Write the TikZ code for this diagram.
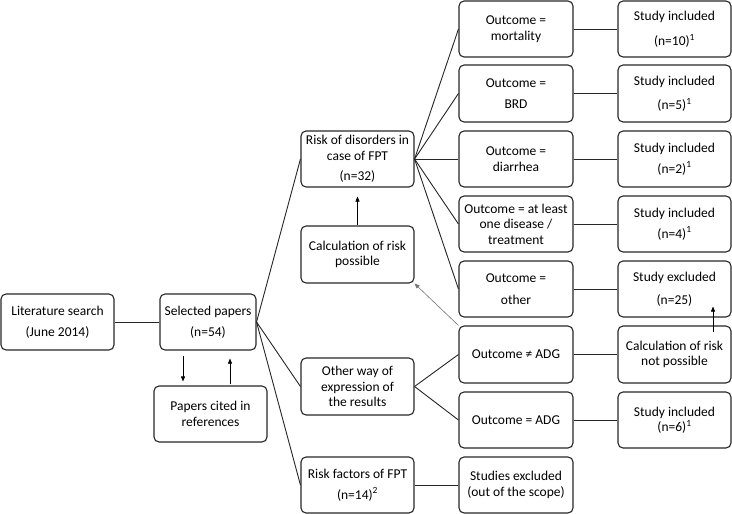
\documentclass[tikz,border=0pt]{standalone}
\usepackage{fontspec}
\setmainfont{Carlito}
\usetikzlibrary{arrows.meta,calc}
\begin{document}
\begin{tikzpicture}[x=1pt,y=-1pt,
  box/.style={draw=black!85,line width=1.1pt,rounded corners=5pt,align=center,inner sep=1pt,font=\fontsize{13.5}{15.5}\selectfont},
  wa/.style={box,minimum width=113pt,minimum height=56pt},
  wb/.style={box,minimum width=114pt,minimum height=56pt},
  conn/.style={draw=black!85,line width=0.9pt},
  arr/.style={draw=black,line width=0.6pt,-{Triangle[length=5pt,width=4pt]}},
  garr/.style={draw=black!55,line width=0.6pt,-{Triangle[length=5pt,width=4pt]}}]
\useasboundingbox (0,0) rectangle (732,514);
% column 1 & 2
\node[wa] (lit) at (57.5,322) {Literature search\\[6pt](June 2014)};
\node[box,minimum width=96pt,minimum height=56pt] (sel) at (208,322) {Selected papers\\[6pt](n=54)};
\node[wa] (cited) at (210.5,414) {Papers cited in\\references};
% column 3
\node[wa] (risk) at (357.5,159) {Risk of disorders in\\case of FPT\\[5pt](n=32)};
\node[wa,minimum height=57pt] (calcp) at (357.5,254.5) {Calculation of risk\\possible};
\node[wa,minimum height=57pt] (other) at (357.5,386.5) {Other way of\\expression of\\the results};
\node[wa] (rf) at (357.5,485) {Risk factors of FPT\\[5pt](n=14)\textsuperscript{2}};
% column 4
\node[wb] (mort) at (516,29) {Outcome =\\mortality};
\node[wb,minimum height=57pt] (brd) at (516,93.5) {Outcome =\\[5pt]BRD};
\node[wb] (diar) at (516,159) {Outcome =\\diarrhea};
\node[wb] (least) at (516,224) {Outcome = at least\\one disease /\\treatment};
\node[wb] (oth) at (516,289) {Outcome =\\[6pt]other};
\node[wb,minimum height=57pt] (neq) at (516,354.5) {Outcome ≠ ADG};
\node[wb] (eq) at (516,420) {Outcome = ADG};
\node[wb] (scope) at (516,485) {Studies excluded\\(out of the scope)};
% column 5
\node[wa] (s1) at (674.5,29) {Study included\\[10pt](n=10)\textsuperscript{1}};
\node[wa,minimum height=57pt] (s2) at (674.5,93.5) {Study included\\[9pt](n=5)\textsuperscript{1}};
\node[wa] (s3) at (674.5,159) {Study included\\[5pt](n=2)\textsuperscript{1}};
\node[wa] (s4) at (674.5,224) {Study included\\[5pt](n=4)\textsuperscript{1}};
\node[wa] (sx) at (674.5,289) {Study excluded\\[8pt](n=25)};
\node[wa,minimum height=57pt] (cnp) at (674.5,354.5) {Calculation of risk\\not possible};
\node[wa] (s6) at (674.5,420) {Study included\\(n=6)\textsuperscript{1}};
% connectors
\draw[conn] (lit.east) -- (sel.east -| sel.west);
\draw[conn] (sel.east) -- (risk.west);
\draw[conn] (sel.east) -- (other.west);
\draw[conn] (sel.east) -- (rf.west);
\foreach \t in {mort,brd,diar,least,oth} \draw[conn] (risk.east) -- (\t.west);
\draw[conn] (other.east) -- (neq.west);
\draw[conn] (other.east) -- (eq.west);
\draw[conn] (rf.east) -- (scope.west);
\draw[conn] (mort.east) -- (s1.west);
\draw[conn] (brd.east) -- (s2.west);
\draw[conn] (diar.east) -- (s3.west);
\draw[conn] (least.east) -- (s4.west);
\draw[conn] (oth.east) -- (sx.west);
\draw[conn] (neq.east) -- (cnp.west);
\draw[conn] (eq.east) -- (s6.west);
% arrows
\draw[arr,shorten <=5pt,shorten >=4pt] ([xshift=-25pt]sel.south) -- ([xshift=-25pt]sel.south |- cited.north);
\draw[arr,shorten <=1pt,shorten >=8pt] ([xshift=22pt]sel.south |- cited.north) -- ([xshift=22pt]sel.south);
\draw[arr,shorten >=9pt] (calcp.north) -- (risk.south);
\draw[arr] ([xshift=38.5pt,yshift=-7pt]cnp.north) -- ([xshift=38.5pt,yshift=11pt]sx.south);
\draw[garr] (neq.north west) -- (calcp.south east);
\end{tikzpicture}
\end{document}
